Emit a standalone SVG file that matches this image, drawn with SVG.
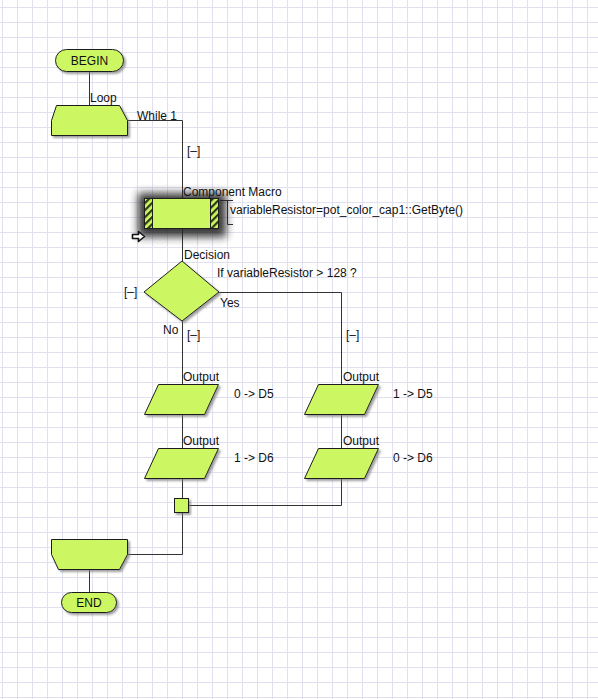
<svg xmlns="http://www.w3.org/2000/svg" width="598" height="699" viewBox="0 0 598 699">
<defs>
<pattern id="grid" patternUnits="userSpaceOnUse" x="2" y="7" width="15" height="15">
<path d="M0.5 0V15M0 0.5H15" stroke="#e0e0f1" stroke-width="1" fill="none"/>
</pattern>
<pattern id="hatch" patternUnits="userSpaceOnUse" width="5" height="5" patternTransform="rotate(-45)">
<rect width="5" height="5" fill="#ccf763"/>
<rect width="5" height="2.2" fill="#2a3a10"/>
</pattern>
<filter id="sh" x="-20%" y="-20%" width="140%" height="150%">
<feDropShadow dx="2" dy="2" stdDeviation="0.8" flood-color="#777" flood-opacity="0.7"/>
</filter>
<filter id="blur" x="-40%" y="-80%" width="180%" height="260%">
<feGaussianBlur stdDeviation="4.5"/>
</filter>
</defs>
<style>
.s{fill:#ccf763;stroke:#1e1e1e;stroke-width:1}
.t{font-family:"Liberation Sans",Arial,sans-serif;font-size:12px;fill:#111}
.c{text-anchor:middle}
.ln{fill:none;stroke:#333;stroke-width:1}
</style>
<rect width="598" height="699" fill="#fff"/>
<rect width="598" height="699" fill="url(#grid)"/>

<g id="connectors" class="ln">
<path d="M89.5 72V105"/>
<path d="M127 120.5H182.5V198"/>
<path d="M182.5 229V261"/>
<path d="M182.5 321V384"/>
<path d="M182.5 414V448"/>
<path d="M182.5 478V498"/>
<path d="M219 292.5H341.5V384"/>
<path d="M341.5 414V448"/>
<path d="M341.5 478V505.5H189"/>
<path d="M182.5 513V554.5H127"/>
<path d="M89.5 569V592"/>
<path d="M220 200.5H233M227.5 200V224.5H233"/>
</g>

<g id="begin">
<rect class="s" x="55.5" y="49.5" width="68" height="22" rx="11" filter="url(#sh)"/>
<text class="t c" x="89.5" y="65">BEGIN</text>
</g>

<g id="loop">
<polygon class="s" points="56.5,105.5 119.5,105.5 127.5,120.5 127.5,135.5 51.5,135.5 51.5,120.5" filter="url(#sh)"/>
<text class="t" x="90" y="102">Loop</text>
<text class="t" x="137" y="120">While 1</text>
<text class="t" x="187" y="155">[–]</text>
</g>

<g id="macro">
<rect x="138" y="193" width="88" height="44" fill="#222" opacity="0.9" filter="url(#blur)"/>
<rect x="144.5" y="198.5" width="74" height="30" fill="#ccf763"/>
<rect x="144.5" y="198.5" width="8" height="30" fill="url(#hatch)" stroke="#1e1e1e"/>
<rect x="210.5" y="198.5" width="8" height="30" fill="url(#hatch)" stroke="#1e1e1e"/>
<rect x="144.5" y="198.5" width="74" height="30" fill="none" stroke="#1e1e1e"/>
<text class="t" x="183" y="196">Component Macro</text>
<text class="t" x="230" y="214">variableResistor=pot_color_cap1::GetByte()</text>
<path d="M132.5 234.5H138.5V231.5L144.5 236.5L138.5 241.5V238.5H132.5Z" fill="#fff" stroke="#111" stroke-width="1.6" stroke-linejoin="round"/>
</g>

<g id="decision">
<polygon class="s" points="182,261 219,292 182,321 144,292" filter="url(#sh)"/>
<text class="t" x="184" y="259">Decision</text>
<text class="t" x="217" y="277">If variableResistor &gt; 128 ?</text>
<text class="t" x="124" y="296">[–]</text>
<text class="t" x="220" y="307">Yes</text>
<text class="t" x="163" y="334">No</text>
<text class="t" x="187" y="339">[–]</text>
<text class="t" x="346" y="339">[–]</text>
</g>

<g id="out1">
<polygon class="s" points="158.5,384.5 218.5,384.5 204.5,414.5 144.5,414.5" filter="url(#sh)"/>
<text class="t" x="183" y="381">Output</text>
<text class="t" x="234" y="398">0 -&gt; D5</text>
</g>

<g id="out2">
<polygon class="s" points="158.5,448.5 218.5,448.5 204.5,478.5 144.5,478.5" filter="url(#sh)"/>
<text class="t" x="183" y="445">Output</text>
<text class="t" x="234" y="462">1 -&gt; D6</text>
</g>

<g id="out3">
<polygon class="s" points="318.5,384.5 378.5,384.5 364.5,414.5 304.5,414.5" filter="url(#sh)"/>
<text class="t" x="343" y="381">Output</text>
<text class="t" x="393" y="398">1 -&gt; D5</text>
</g>

<g id="out4">
<polygon class="s" points="318.5,448.5 378.5,448.5 364.5,478.5 304.5,478.5" filter="url(#sh)"/>
<text class="t" x="343" y="445">Output</text>
<text class="t" x="393" y="462">0 -&gt; D6</text>
</g>

<g id="junction">
<rect class="s" x="174.5" y="498.5" width="14" height="14" filter="url(#sh)"/>
</g>

<g id="loopend">
<polygon class="s" points="51.5,539.5 127.5,539.5 127.5,554.5 119.5,569.5 58.5,569.5 51.5,554.5" filter="url(#sh)"/>
</g>

<g id="end">
<rect class="s" x="61.5" y="592.5" width="55" height="20" rx="10" filter="url(#sh)"/>
<text class="t c" x="89" y="607">END</text>
</g>
</svg>
